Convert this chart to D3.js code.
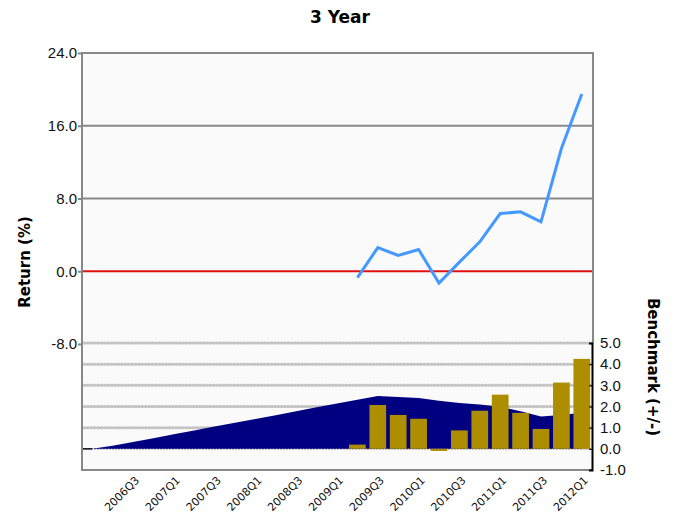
<!DOCTYPE html>
<html><head><meta charset="utf-8">
<script src="https://cdn.jsdelivr.net/npm/d3@7"></script>
<style>body{margin:0;background:#fff}svg{display:block}</style>
</head><body>
<svg id="c" width="677" height="513"></svg>
<script>
const quarters = ["2006Q1","2006Q2","2006Q3","2006Q4","2007Q1","2007Q2","2007Q3","2007Q4","2008Q1","2008Q2","2008Q3","2008Q4","2009Q1","2009Q2","2009Q3","2009Q4","2010Q1","2010Q2","2010Q3","2010Q4","2011Q1","2011Q2","2011Q3","2011Q4","2012Q1"];
const benchmarkArea = [0,0.14,0.32,0.50,0.69,0.87,1.05,1.23,1.41,1.59,1.77,1.96,2.14,2.32,2.50,2.45,2.40,2.27,2.17,2.09,1.99,1.77,1.53,1.60,1.70];
const seriesQuarters = ["2009Q2","2009Q3","2009Q4","2010Q1","2010Q2","2010Q3","2010Q4","2011Q1","2011Q2","2011Q3","2011Q4","2012Q1"];
const excessBars = [0.2,2.07,1.6,1.42,-0.1,0.87,1.8,2.56,1.7,0.94,3.13,4.25];
const returnLine = [-0.7,2.6,1.73,2.39,-1.29,1.0,3.23,6.35,6.53,5.43,13.5,19.5];
const xTickLabels = ["2006Q3","2007Q1","2007Q3","2008Q1","2008Q3","2009Q1","2009Q3","2010Q1","2010Q3","2011Q1","2011Q3","2012Q1"];
const leftTicks = [24,16,8,0,-8];
const rightTicks = [5,4,3,2,1,0,-1];

const svg = d3.select("#c");
const L = 82, R = 592, T = 53, B = 470;
const fmt = d => d3.format(".1f")(d).replace("\u2212","-");
const x = d3.scaleBand().domain(quarters).range([L,R]).paddingInner(0.18).paddingOuter(0.09);
const cx = q => x(q) + x.bandwidth()/2;
const yTop = d3.scaleLinear().domain([-8,24]).range([344,T]);
const yBot = d3.scaleLinear().domain([-1,5]).range([B,343]);

svg.append("rect").attr("x",L).attr("y",T).attr("width",R-L+1).attr("height",B-T).attr("fill","#fafafa");

// lower dotted grid
svg.append("g").selectAll("line").data([1,2,3,4,5]).join("line")
  .attr("x1",L+2).attr("x2",R).attr("y1",d=>yBot(d)).attr("y2",d=>yBot(d))
  .attr("stroke","#c4c4c4").attr("stroke-width",3).attr("stroke-linecap","round").attr("stroke-dasharray","1,2.4");
// upper grid
svg.append("g").selectAll("line").data([16,8]).join("line")
  .attr("x1",L).attr("x2",R).attr("y1",d=>yTop(d)).attr("y2",d=>yTop(d))
  .attr("stroke","#888").attr("stroke-width",2);

// zero line lower
svg.append("line").attr("x1",L).attr("x2",R).attr("y1",yBot(0)).attr("y2",yBot(0))
  .attr("stroke","#555").attr("stroke-width",1).attr("stroke-dasharray","2,1");

// benchmark area
const area = d3.area().x((d,i)=>cx(quarters[i])).y0(yBot(0)).y1(d=>yBot(d));
svg.append("path").datum(benchmarkArea).attr("d",area).attr("fill","#000080");
svg.append("line").attr("x1",L).attr("x2",cx(quarters[0])).attr("y1",yBot(0)).attr("y2",yBot(0))
  .attr("stroke","#111").attr("stroke-width",1.5);

// bars
svg.append("g").selectAll("rect").data(excessBars).join("rect")
  .attr("x",(d,i)=>x(seriesQuarters[i])).attr("width",x.bandwidth())
  .attr("y",d=>yBot(Math.max(0,d))).attr("height",d=>Math.abs(yBot(d)-yBot(0)))
  .attr("fill","#ad8e00");

// red zero line
svg.append("line").attr("x1",L).attr("x2",R).attr("y1",yTop(0)).attr("y2",yTop(0))
  .attr("stroke","#e01010").attr("stroke-width",2.2);

// return line
const line = d3.line().x((d,i)=>cx(seriesQuarters[i])).y(d=>yTop(d));
svg.append("path").datum(returnLine).attr("d",line).attr("fill","none")
  .attr("stroke","#4499ff").attr("stroke-width",3).attr("stroke-linejoin","miter");

// frame
svg.append("path").attr("d",`M${L},${T}H${R+1}V343`).attr("fill","none").attr("stroke","#888").attr("stroke-width",2);
svg.append("line").attr("x1",L).attr("x2",L).attr("y1",T-1).attr("y2",B+1).attr("stroke","#888").attr("stroke-width",2);
svg.append("line").attr("x1",L).attr("x2",R).attr("y1",B).attr("y2",B).attr("stroke","#888").attr("stroke-width",2);

// left axis
const gl = svg.append("g").attr("transform",`translate(${L-1},0)`)
  .call(d3.axisLeft(yTop).tickValues(leftTicks).tickFormat(fmt).tickSize(3).tickPadding(1));
gl.select(".domain").remove();
gl.selectAll(".tick line").attr("stroke","#888").attr("stroke-width",2);
gl.selectAll("text").attr("font-family","Liberation Sans, Arial, sans-serif").attr("font-size",15).attr("fill","#111");

// right axis
const gr = svg.append("g").attr("transform",`translate(${R},0)`)
  .call(d3.axisRight(yBot).tickValues(rightTicks).tickFormat(fmt).tickSize(-3).tickPadding(8));
gr.select(".domain").attr("stroke","#000").attr("stroke-width",2);
gr.selectAll(".tick line").attr("stroke","#000");
gr.selectAll("text").attr("font-family","Liberation Sans, Arial, sans-serif").attr("font-size",15).attr("fill","#111");

// x labels
svg.append("g").selectAll("text").data(xTickLabels).join("text")
  .attr("transform",d=>`translate(${cx(d)+7},481) rotate(-45)`)
  .attr("text-anchor","end").attr("font-family","DejaVu Sans, sans-serif").attr("font-size",11)
  .attr("fill","#111").text(d=>d);

// titles
svg.append("text").attr("x",340).attr("y",23).attr("text-anchor","middle")
  .attr("font-family","DejaVu Sans, sans-serif").attr("font-weight","bold").attr("font-size",17).text("3 Year");
svg.append("text").attr("transform","translate(30,262) rotate(-90)").attr("text-anchor","middle")
  .attr("font-family","DejaVu Sans, sans-serif").attr("font-weight","bold").attr("font-size",15).text("Return (%)");
svg.append("text").attr("transform","translate(648,367) rotate(90)").attr("text-anchor","middle")
  .attr("font-family","DejaVu Sans, sans-serif").attr("font-weight","bold").attr("font-size",15).text("Benchmark (+/-)");
</script>
</body></html>
